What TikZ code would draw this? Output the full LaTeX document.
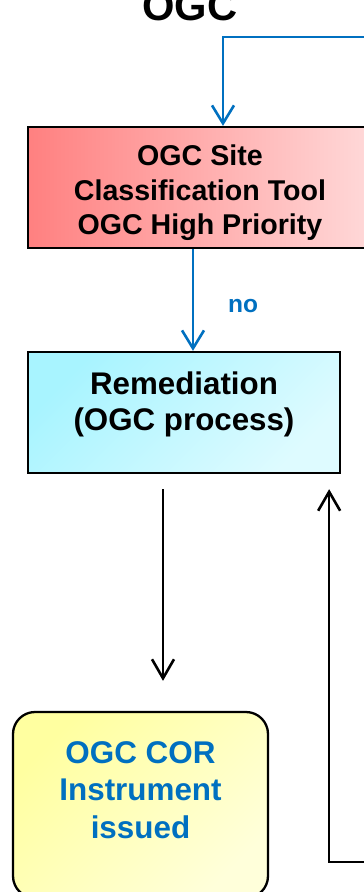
\documentclass[tikz,border=0pt]{standalone}
\usepackage{fontspec}
\setmainfont{Liberation Sans}
\usetikzlibrary{arrows.meta}
\definecolor{ogcblue}{RGB}{0,112,192}
\definecolor{redL}{RGB}{255,128,128}
\definecolor{redR}{RGB}{255,218,218}
\definecolor{cyanA}{RGB}{168,244,255}
\definecolor{cyanB}{RGB}{222,251,255}
\definecolor{yelA}{RGB}{255,255,160}
\definecolor{yelB}{RGB}{255,255,218}
\tikzset{
  boxbase/.style={draw=black, line width=2.3pt, inner sep=0pt, rectangle},
  redbox/.style={boxbase, left color=redL, right color=redR},
  cyanbox/.style={boxbase, top color=cyanA, bottom color=cyanB, shading angle=45},
  yelbox/.style={boxbase, rounded corners=22pt, top color=yelA, bottom color=yelB, shading angle=45},
  bluearrow/.style={draw=ogcblue, line width=2.6pt, -{Straight Barb[length=18pt,width=22pt]}},
  blackarrow/.style={draw=black, line width=2.6pt, -{Straight Barb[length=19pt,width=22pt]}},
  txt/.style={align=center, inner sep=0pt, font=\bfseries},
}
\begin{document}
\begin{tikzpicture}[x=1pt,y=-1pt]
\useasboundingbox (0,0) rectangle (364,892);
\fill[white] (0,0) rectangle (364,892);
\clip (0,0) rectangle (364,892);
% title
\node[font=\bfseries\fontsize{41.7}{50}\selectfont, anchor=base, inner sep=0pt] (title) at (190,20) {OGC};
% boxes
\node[redbox, minimum width=348pt, minimum height=121pt] (cls) at (202,187.5) {};
\node[txt, font=\bfseries\fontsize{28.6}{34.5}\selectfont] (clst) at (200,193) {OGC Site\\Classification Tool\\OGC High Priority};
\node[cyanbox, minimum width=312pt, minimum height=121pt] (rem) at (184,412.5) {};
\node[txt, font=\bfseries\fontsize{31.3}{36}\selectfont] (remt) at (184,404) {Remediation\\(OGC process)};
\node[yelbox, minimum width=255pt, minimum height=186pt] (cor) at (140.5,805) {};
\node[txt, text=ogcblue, font=\bfseries\fontsize{31.4}{37.5}\selectfont] (cort) at (140.5,790) {OGC COR\\Instrument\\issued};
% connectors
\coordinate (bin) at (372,37);
\draw[bluearrow] (bin) -| ([xshift=21pt]cls.north);
\draw[bluearrow] ([xshift=-9pt]cls.south) -- ([xshift=9pt]rem.north);
\node[txt, text=ogcblue, font=\bfseries\fontsize{24.5}{29}\selectfont] (no) at (243,306) {no};
\draw[blackarrow] ([xshift=-21pt,yshift=-15pt]rem.south) -- ([xshift=22.5pt,yshift=30pt]cor.north);
\coordinate (bin2) at (372,862);
\draw[blackarrow] (bin2) -| ([xshift=-12pt,yshift=-15pt]rem.south east);
\end{tikzpicture}
\end{document}
